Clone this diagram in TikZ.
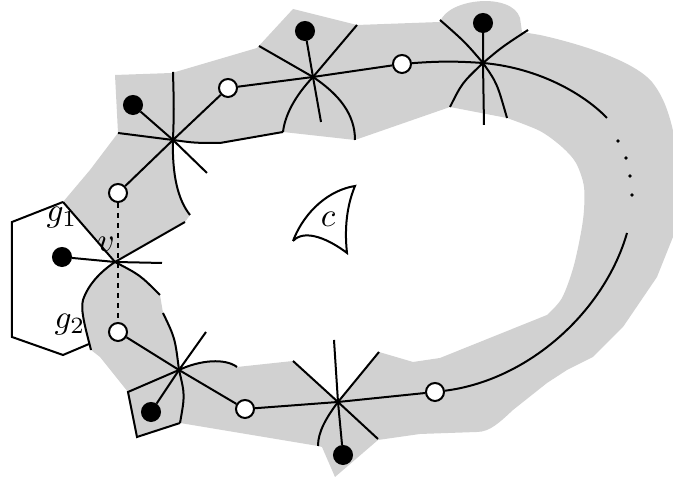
\documentclass[tikz,border=0pt]{standalone}
\begin{document}
\begin{tikzpicture}[
        x=0.3pt, y=-0.3pt,
        line width=0.6pt,
        region/.style={fill=black!18},
        wvert/.style={draw, circle, fill=white, minimum size=5.4pt, inner sep=0pt},
        bvert/.style={draw, circle, fill=black, minimum size=5.4pt, inner sep=0pt},
        hidden/.style={dash pattern=on 1.5pt off 1.5pt},
        facelabel/.style={inner sep=0pt}
    ]
    \clip (0,0) rectangle (673,479);
    \coordinate (v) at (115,262);
    \coordinate (s1) at (173,140);
    \coordinate (s2) at (313,77);
    \coordinate (s3) at (483,63);
    \coordinate (s4) at (338,402);
    \coordinate (s5) at (179,370);
    \coordinate (v1) at (162,263);
    \coordinate (v3) at (160,295);
    \coordinate (v4) at (185,222);
    \coordinate (v5) at (91,350);
    \coordinate (h1) at (63,202);
    \coordinate (h2) at (12,222);
    \coordinate (h3) at (12,337);
    \coordinate (h4) at (63,355);
    \coordinate (h5) at (89,344);
    \coordinate (s1t) at (173,72);
    \coordinate (s1b) at (190,215);
    \coordinate (s1l) at (118,133);
    \coordinate (s1m) at (220,143);
    \coordinate (s1r) at (283,132);
    \coordinate (s1x) at (207,173);
    \coordinate (s2a) at (259,46);
    \coordinate (s2b) at (355,140);
    \coordinate (s2c) at (357,25);
    \coordinate (s2e) at (321,122);
    \coordinate (s3a) at (440,20);
    \coordinate (s3b) at (507,118);
    \coordinate (s3c) at (528,30);
    \coordinate (s3d) at (450,107);
    \coordinate (s3e) at (484,125);
    \coordinate (s3f) at (607,118);
    \coordinate (r1) at (627,233);
    \coordinate (s4a) at (293,361);
    \coordinate (s4b) at (378,439);
    \coordinate (s4c) at (334,340);
    \coordinate (s4d) at (379,352);
    \coordinate (s4e) at (318,446);
    \coordinate (s5a) at (163,313);
    \coordinate (s5b) at (180,423);
    \coordinate (s5c) at (237,367);
    \coordinate (s5d) at (206,332);
    \coordinate (p1) at (128,392);
    \coordinate (p2) at (137,437);
    \coordinate (f1) at (293,241);
    \coordinate (f2) at (355,186);
    \coordinate (f3) at (347,253);

    \fill[region, even odd rule]
        (v) -- (h1) -- (90,170) -- (s1l) -- (115,75) -- (172,73) -- (257,48) -- (293,9)
        -- (357,25) -- (440,22) .. controls (448,-2) and (512,-8) .. (520,18) -- (522,32)
        -- (540,35) .. controls (585,45) and (635,62) .. (652,82)
        .. controls (664,97) and (670,115) .. (675,140) -- (685,160) -- (685,230)
        -- (673,237) -- (657,277) -- (623,327) -- (593,357) -- (567,370) -- (547,383)
        -- (513,410) .. controls (500,422) and (490,432) .. (477,432) -- (420,434)
        -- (378,440) -- (335,477) -- (322,447) -- (s4e) -- (s5b) -- (p2) -- (p1)
        -- (100,357) -- (v5) .. controls (86,330) and (80,310) .. (83,300)
        .. controls (88,285) and (100,272) .. (v) -- cycle
        (v) .. controls (140,275) .. (v3) -- (s5a) .. controls (175,338) .. (s5)
        .. controls (200,360) and (225,358) .. (s5c) -- (s4a) -- (s4) -- (s4d)
        -- (413,362) -- (440,358)
        -- plot[smooth] coordinates {(547,315) (562,298) (574,265) (583,220) (584,187) (576,163) (562,147) (540,131) (s3b)}
        -- (s3d) -- (s2b) -- (s1r) -- (s1m) .. controls (195,143) .. (s1)
        .. controls (172,175) and (178,200) .. (s1b) -- (v4) -- cycle;

    \node[wvert] (w1) at (118,193) {};
    \node[wvert] (w2) at (228,88) {};
    \node[wvert] (w3) at (402,64) {};
    \node[wvert] (w4) at (435,392) {};
    \node[wvert] (w5) at (245,409) {};
    \node[wvert] (w6) at (118,332) {};
    \node[bvert] (b0) at (62,257) {};
    \node[bvert] (b1) at (133,105) {};
    \node[bvert] (b2) at (305,31) {};
    \node[bvert] (b3) at (483,23) {};
    \node[bvert] (b4) at (343,455) {};
    \node[bvert] (b5) at (151,412) {};

    \draw (h1) -- (h2) -- (h3) -- (h4) -- (h5);
    \draw (b0) -- (v) -- (v1);
    \draw (h1) -- (v) .. controls (140,275) .. (v3);
    \draw (v4) -- (v) .. controls (100,272) and (88,285) .. (83,300)
        .. controls (80,310) and (86,330) .. (v5);
    \draw[hidden] (w1) -- (w6);

    \draw (w1) -- (s1) -- (w2);
    \draw (b1) -- (s1) -- (s1x);
    \draw (s1t) .. controls (174,110) .. (s1) .. controls (172,175) and (178,200) .. (s1b);
    \draw (s1l) -- (s1) .. controls (195,143) .. (s1m) -- (s1r);

    \draw (w2) -- (s2) -- (w3);
    \draw (b2) -- (s2) -- (s2e);
    \draw (s2a) -- (s2) .. controls (340,95) and (355,115) .. (s2b);
    \draw (s2c) -- (s2) .. controls (295,96) and (285,115) .. (s1r);

    \draw (w3) to[bend left=4] (s3);
    \draw (s3) .. controls (540,68) and (585,95) .. (s3f);
    \draw (b3) -- (s3) -- (s3e);
    \draw (s3a) .. controls (465,42) .. (s3) .. controls (497,83) .. (s3b);
    \draw (s3c) .. controls (502,47) .. (s3) .. controls (462,83) .. (s3d);

    \foreach \p in {(618,141),(626,158),(630,176),(632,195)}
        \fill \p circle (1.8);

    \draw (r1) .. controls (605,310) and (530,380) .. (w4);

    \draw (w4) -- (s4) -- (w5);
    \draw (s4a) -- (s4) -- (s4b);
    \draw (s4c) -- (s4) -- (b4);
    \draw (s4d) -- (s4) .. controls (326,418) and (318,432) .. (s4e);

    \draw (w6) -- (s5) -- (w5);
    \draw (b5) -- (s5) -- (s5d);
    \draw (s5a) .. controls (175,338) .. (s5) .. controls (185,395) .. (s5b);
    \draw (s5) .. controls (200,360) and (225,358) .. (s5c);
    \draw (s5) -- (p1) -- (p2) -- (s5b);

    \draw (f1) .. controls (305,210) and (330,190) .. (f2)
        .. controls (345,210) and (345,235) .. (f3)
        .. controls (330,240) and (305,228) .. (f1);
    \node[facelabel] (c) at (328,219) {$c$};
    \node[facelabel] (g1) at (62,218) {$g_1$};
    \node[facelabel] (g2) at (70,325) {$g_2$};
    \node[facelabel] (vl) at (106,244) {$v$};
\end{tikzpicture}
\end{document}
